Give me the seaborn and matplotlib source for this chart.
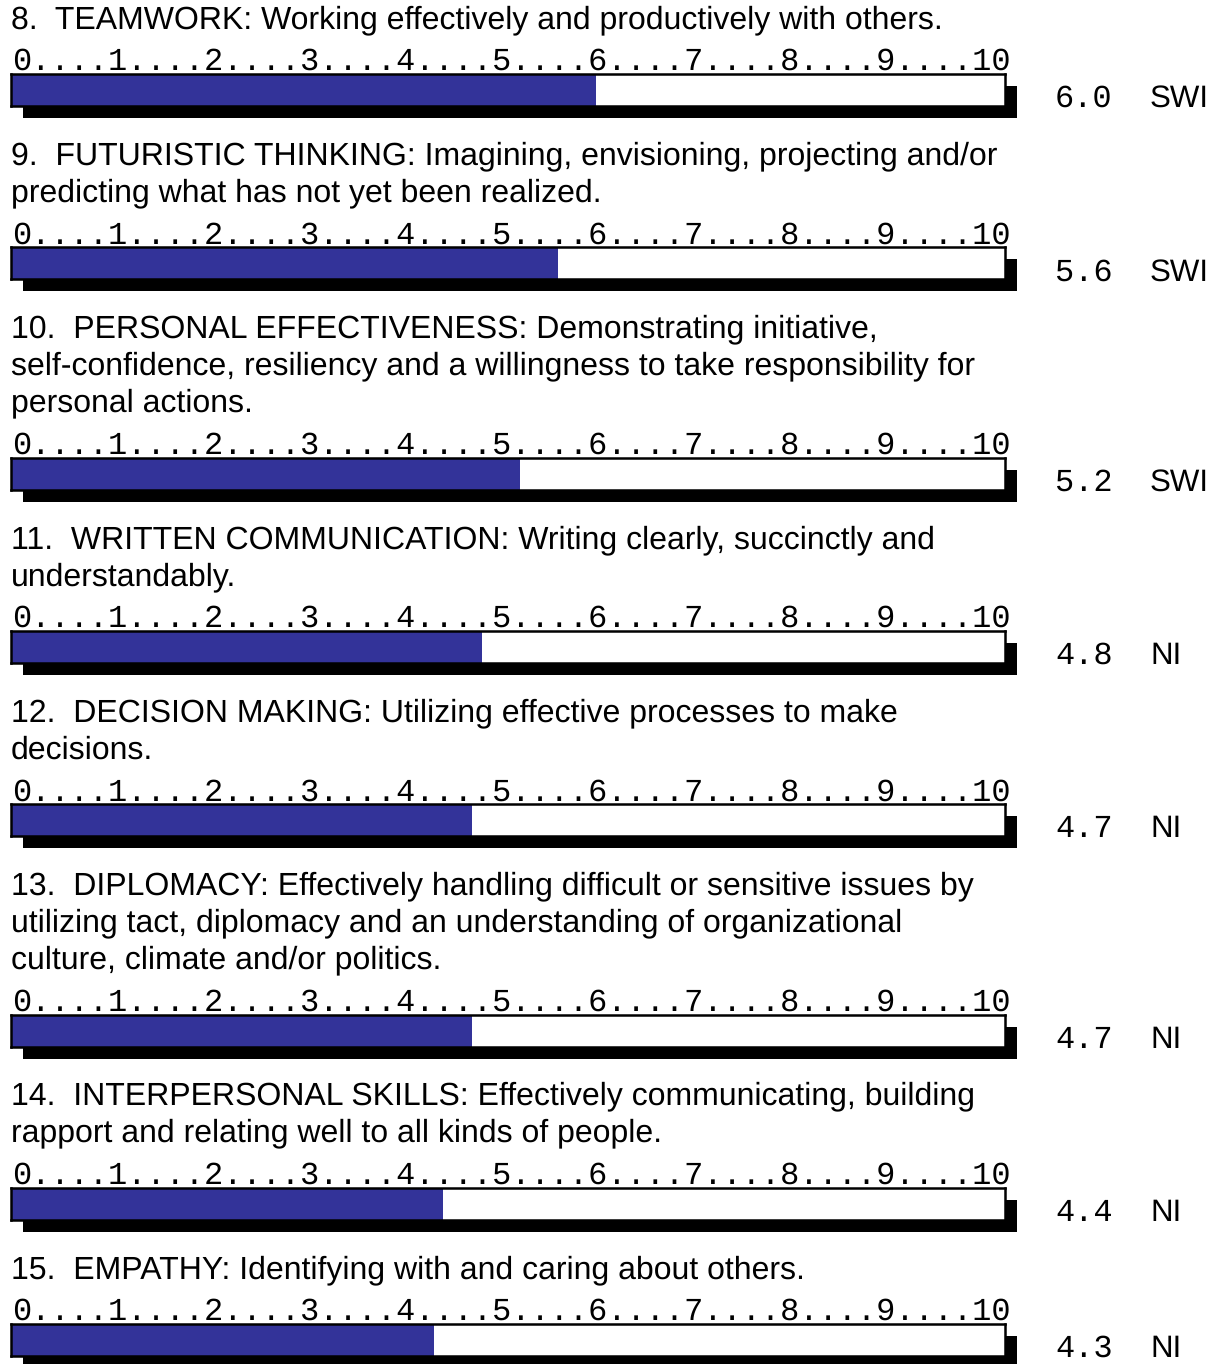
import matplotlib
matplotlib.use("Agg")
import matplotlib.pyplot as plt
import matplotlib.transforms as mtransforms
from matplotlib.patches import Rectangle
import pandas as pd
import seaborn as sns

# chart data
item_numbers = [8, 9, 10, 11, 12, 13, 14, 15]
item_titles = [
    ["8.  TEAMWORK: Working effectively and productively with others."],
    ["9.  FUTURISTIC THINKING: Imagining, envisioning, projecting and/or",
     "predicting what has not yet been realized."],
    ["10.  PERSONAL EFFECTIVENESS: Demonstrating initiative,",
     "self-confidence, resiliency and a willingness to take responsibility for",
     "personal actions."],
    ["11.  WRITTEN COMMUNICATION: Writing clearly, succinctly and",
     "understandably."],
    ["12.  DECISION MAKING: Utilizing effective processes to make",
     "decisions."],
    ["13.  DIPLOMACY: Effectively handling difficult or sensitive issues by",
     "utilizing tact, diplomacy and an understanding of organizational",
     "culture, climate and/or politics."],
    ["14.  INTERPERSONAL SKILLS: Effectively communicating, building",
     "rapport and relating well to all kinds of people."],
    ["15.  EMPATHY: Identifying with and caring about others."],
]
scores = [6.0, 5.6, 5.2, 4.8, 4.7, 4.7, 4.4, 4.3]
ratings = ["SWI", "SWI", "SWI", "NI", "NI", "NI", "NI", "NI"]
scale_ticks = list(range(0, 11))

BAR_COLOR = "#333399"
SANS = "Liberation Sans"
MONO = "Liberation Mono"

W, H, DPI = 1217, 1364, 100

sns.set_theme(style="white")
plt.rcParams["font.family"] = [SANS, "DejaVu Sans"]
plt.rcParams["text.hinting"] = "no_hinting"

fig = plt.figure(figsize=(W / DPI, H / DPI), dpi=DPI)
fig.patch.set_facecolor("white")


def px(x, y):
    """pixel (from top-left) -> figure fraction"""
    return x / W, 1 - y / H


scale_text = "....".join(str(t) for t in scale_ticks)

box_x, box_w, box_h = 11, 994, 32
line_gap = 37
shadow = 12
# the 0..10 scale sits under the digit centres, not the box edges
x_lo, x_hi = -0.12, 10.27

cursor = 28  # baseline of first title line
for num, lines, score, rating in zip(item_numbers, item_titles, scores, ratings):
    for i, line in enumerate(lines):
        fx, fy = px(11, cursor + i * line_gap)
        fig.text(fx, fy, line, fontsize=23, va="baseline", ha="left",
                 color="black")
    box_top = cursor + (len(lines) - 1) * line_gap + 46

    # scale above the box
    fx, fy = px(12, box_top - 4)
    fig.text(fx, fy, scale_text, fontsize=23.0, family=MONO,
             va="baseline", ha="left", color="black")

    ax = fig.add_axes([box_x / W, 1 - (box_top + box_h) / H, box_w / W, box_h / H])
    df = pd.DataFrame({"score": [score], "item": [str(num)]})
    sns.barplot(data=df, x="score", y="item", orient="h", color=BAR_COLOR,
                width=1.0, linewidth=0, saturation=1, ax=ax)
    ax.set_xlim(x_lo, x_hi)
    ax.set_ylim(0.5, -0.5)
    # bar is filled from the box edge
    for p in ax.patches:
        p.set_width(p.get_x() + p.get_width() - x_lo)
        p.set_x(x_lo)
    ax.set_facecolor("white")
    ax.set_xticks([])
    ax.set_yticks([])
    ax.set_xlabel("")
    ax.set_ylabel("")
    for sp in ax.spines.values():
        sp.set_visible(True)
        sp.set_color("black")
        sp.set_linewidth(1.8)

    # drop shadow behind the box
    off = mtransforms.ScaledTranslation(shadow / DPI, -shadow / DPI,
                                        fig.dpi_scale_trans)
    fig.add_artist(Rectangle((0, 0), 1, 1, transform=ax.transAxes + off,
                             facecolor="black", edgecolor="none", zorder=-1))

    # score and rating to the right
    fx, fy = px(1055, box_top + 33)
    fig.text(fx, fy, f"{score:.1f}", fontsize=23.0, family=MONO,
             va="baseline", ha="left", color="black")
    fx, fy = px(1150, box_top + 33)
    fig.text(fx, fy, rating, fontsize=22.5, va="baseline", ha="left",
             color="black")

    cursor = box_top + 90.3

fig.savefig("out.png", dpi=DPI, facecolor="white")
